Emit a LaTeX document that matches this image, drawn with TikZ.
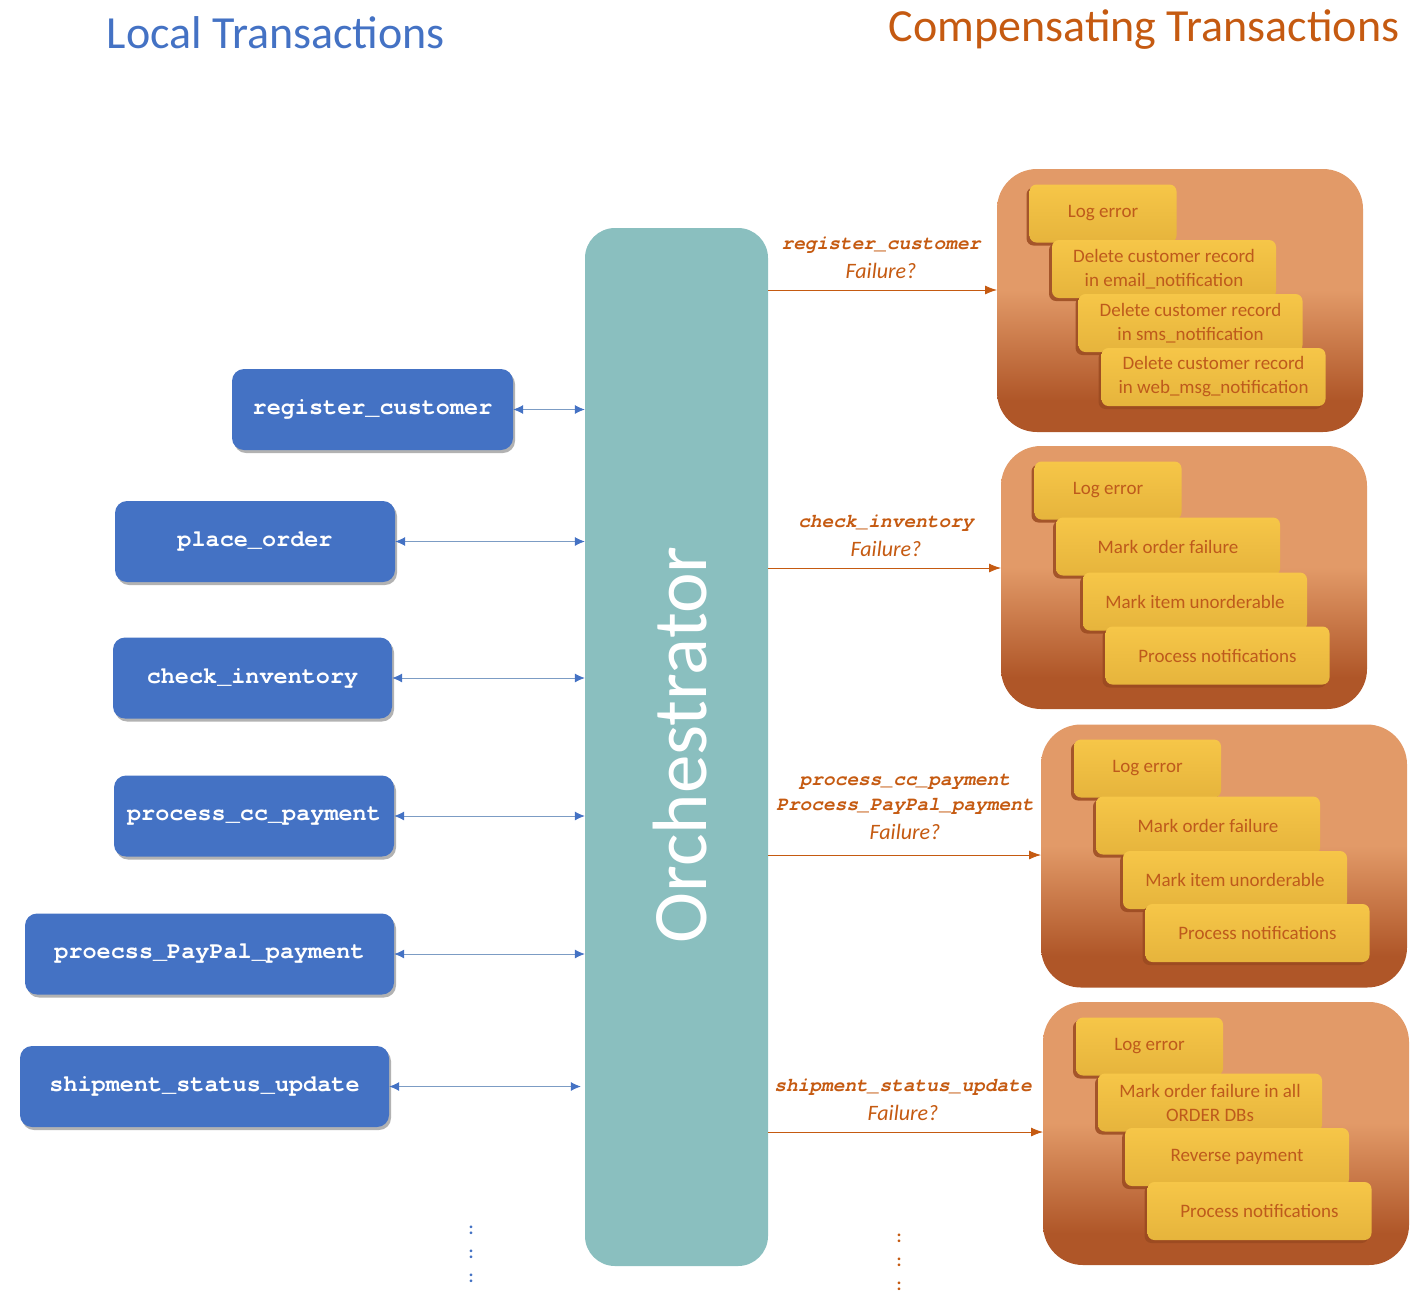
\documentclass[tikz,border=0pt]{standalone}
\usepackage{fontspec}
\setmainfont{Carlito}
\newfontfamily\monof{TeX Gyre Cursor}
\usetikzlibrary{shadows,arrows.meta}
\definecolor{blueA}{HTML}{4472C4}
\definecolor{blueLine}{HTML}{7C9CC4}
\definecolor{orA}{HTML}{C55A11}
\definecolor{tealA}{HTML}{8ABFBF}
\definecolor{boxtop}{HTML}{E29A68}
\definecolor{boxbot}{HTML}{AF5628}
\definecolor{yelA}{HTML}{F6C648}
\definecolor{yelB}{HTML}{E6B43C}
\definecolor{ytext}{HTML}{BE5A1C}
\definecolor{yshadow}{HTML}{9A4A20}
\pgfdeclareverticalshading{boxshade}{100bp}{color(0bp)=(boxbot); color(31bp)=(boxbot); color(52bp)=(boxtop); color(100bp)=(boxtop)}
\begin{document}
\begin{tikzpicture}[x=1pt,y=-1pt,
  bluebox/.style={fill=blueA, rounded corners=12pt, minimum height=81pt, text=white,
    font=\monof\bfseries\fontsize{23.5}{26}\selectfont,
    drop shadow={shadow xshift=2pt, shadow yshift=-3pt, opacity=0.3, fill=black}},
  orangebox/.style={shading=boxshade, rounded corners=40pt, minimum width=366pt, minimum height=263pt},
  yitem/.style={top color=yelA, bottom color=yelB, rounded corners=7pt, minimum height=58pt,
    text=ytext, align=center, font=\fontsize{19}{24}\selectfont,
    drop shadow={shadow xshift=-3pt, shadow yshift=-3pt, opacity=0.85, fill=yshadow}},
  ylog/.style={yitem, minimum width=147pt},
  ywide/.style={yitem, minimum width=224pt},
  biarrow/.style={draw=blueLine, line width=0.8pt, {Latex[length=10pt,width=9pt,color=blueA]}-{Latex[length=10pt,width=9pt,color=blueA]}},
  orarrow/.style={draw=orA, line width=0.8pt, -{Latex[length=12pt,width=9pt,color=orA]}},
  flabel/.style={text=orA, align=center, inner sep=0pt},
  monol/.style={font=\monof\bfseries\itshape\fontsize{19.5}{24}\selectfont},
  faill/.style={font=\itshape\fontsize{22}{24}\selectfont}
]
\useasboundingbox (0,0) rectangle (1423,1294);

% titles
\node[text=blueA, font=\fontsize{46}{50}\selectfont] (tl) at (276,33) {Local Transactions};
\node[text=orA, font=\fontsize{46}{50}\selectfont] (tr) at (1144,30) {Compensating Transactions};

% orchestrator
\node[fill=tealA, rounded corners=30pt, minimum width=183pt, minimum height=1038pt, inner sep=0pt] (orch) at (676.5,747) {};
\node[rotate=90, text=white, font=\fontsize{77}{80}\selectfont] (orchtxt) at (680,745) {Orchestrator};

% local transactions
\node[bluebox, minimum width=281pt] (n1) at (372.5,409.5) {register\_customer};
\node[bluebox, minimum width=280pt] (n2) at (255,541.5) {place\_order};
\node[bluebox, minimum width=279pt] (n3) at (252.5,678) {check\_inventory};
\node[bluebox, minimum width=280pt] (n4) at (254,816) {process\_cc\_payment};
\node[bluebox, minimum width=369pt] (n5) at (209.5,954) {proecss\_PayPal\_payment};
\node[bluebox, minimum width=369pt] (n6) at (204.5,1086.5) {shipment\_status\_update};

\draw[biarrow] (n1.east) -- (n1.east -| orch.west);
\draw[biarrow] (n2.east) -- (n2.east -| orch.west);
\draw[biarrow] (n3.east) -- (n3.east -| orch.west);
\draw[biarrow] (n4.east) -- (n4.east -| orch.west);
\draw[biarrow] (n5.east) -- (n5.east -| orch.west);
\draw[biarrow, shorten >=4pt] (n6.east) -- (n6.east -| orch.west);

% compensating boxes
\node[orangebox] (b1) at (1180,300.5) {};
\node[orangebox] (b2) at (1184,577.5) {};
\node[orangebox] (b3) at (1224,856) {};
\node[orangebox] (b4) at (1226,1133.5) {};

% box 1 items
\node[ylog]  (b1a) at (1103,213.5) {Log error};
\node[ywide] (b1b) at (1164,269) {Delete customer record\\in email\_notification};
\node[ywide] (b1c) at (1190.5,323) {Delete customer record\\in sms\_notification};
\node[ywide] (b1d) at (1213.5,377) {Delete customer record\\in web\_msg\_notification};

% box 2 items
\node[ylog]  (b2a) at (1108,490.5) {Log error};
\node[ywide] (b2b) at (1168,546.5) {Mark order failure};
\node[ywide] (b2c) at (1195,601.5) {Mark item unorderable};
\node[ywide] (b2d) at (1217.5,655.5) {Process notifications};

% box 3 items
\node[ylog]  (b3a) at (1147.5,768.5) {Log error};
\node[ywide] (b3b) at (1208,825.5) {Mark order failure};
\node[ywide] (b3c) at (1235,880) {Mark item unorderable};
\node[ywide] (b3d) at (1257.5,933) {Process notifications};

% box 4 items
\node[ylog]  (b4a) at (1149.5,1046.5) {Log error};
\node[ywide] (b4b) at (1210,1102.5) {Mark order failure in all\\ORDER DBs};
\node[ywide] (b4c) at (1237,1157) {Reverse payment};
\node[ywide] (b4d) at (1259.5,1211) {Process notifications};

% failure arrows
\coordinate (f1) at (997,290);
\coordinate (f2) at (1001,568);
\coordinate (f3) at (1041,855);
\coordinate (f4) at (1043,1132);
\draw[orarrow] (f1 -| orch.east) -- (f1);
\draw[orarrow] (f2 -| orch.east) -- (f2);
\draw[orarrow] (f3 -| orch.east) -- (f3);
\draw[orarrow] (f4 -| orch.east) -- (f4);

\node[flabel, monol] (l1a) at (881,245) {register\_customer};
\node[flabel, faill] (l1b) at (881,271) {Failure?};
\node[flabel, monol] (l2a) at (886,523) {check\_inventory};
\node[flabel, faill] (l2b) at (886,549) {Failure?};
\node[flabel, monol] (l3a) at (905,782) {process\_cc\_payment};
\node[flabel, monol] (l3b) at (905,806) {Process\_PayPal\_payment};
\node[flabel, faill] (l3c) at (905,832) {Failure?};
\node[flabel, monol] (l4a) at (903,1087) {shipment\_status\_update};
\node[flabel, faill] (l4b) at (903,1113) {Failure?};

% continuation dots
\node[text=blueA, font=\bfseries\fontsize{18}{24}\selectfont, align=center, inner sep=0pt] (dl) at (471,1254) {:\\:\\:};
\node[text=orA, font=\bfseries\fontsize{18}{24}\selectfont, align=center, inner sep=0pt] (dr) at (899,1262) {:\\:\\:};
\end{tikzpicture}
\end{document}
